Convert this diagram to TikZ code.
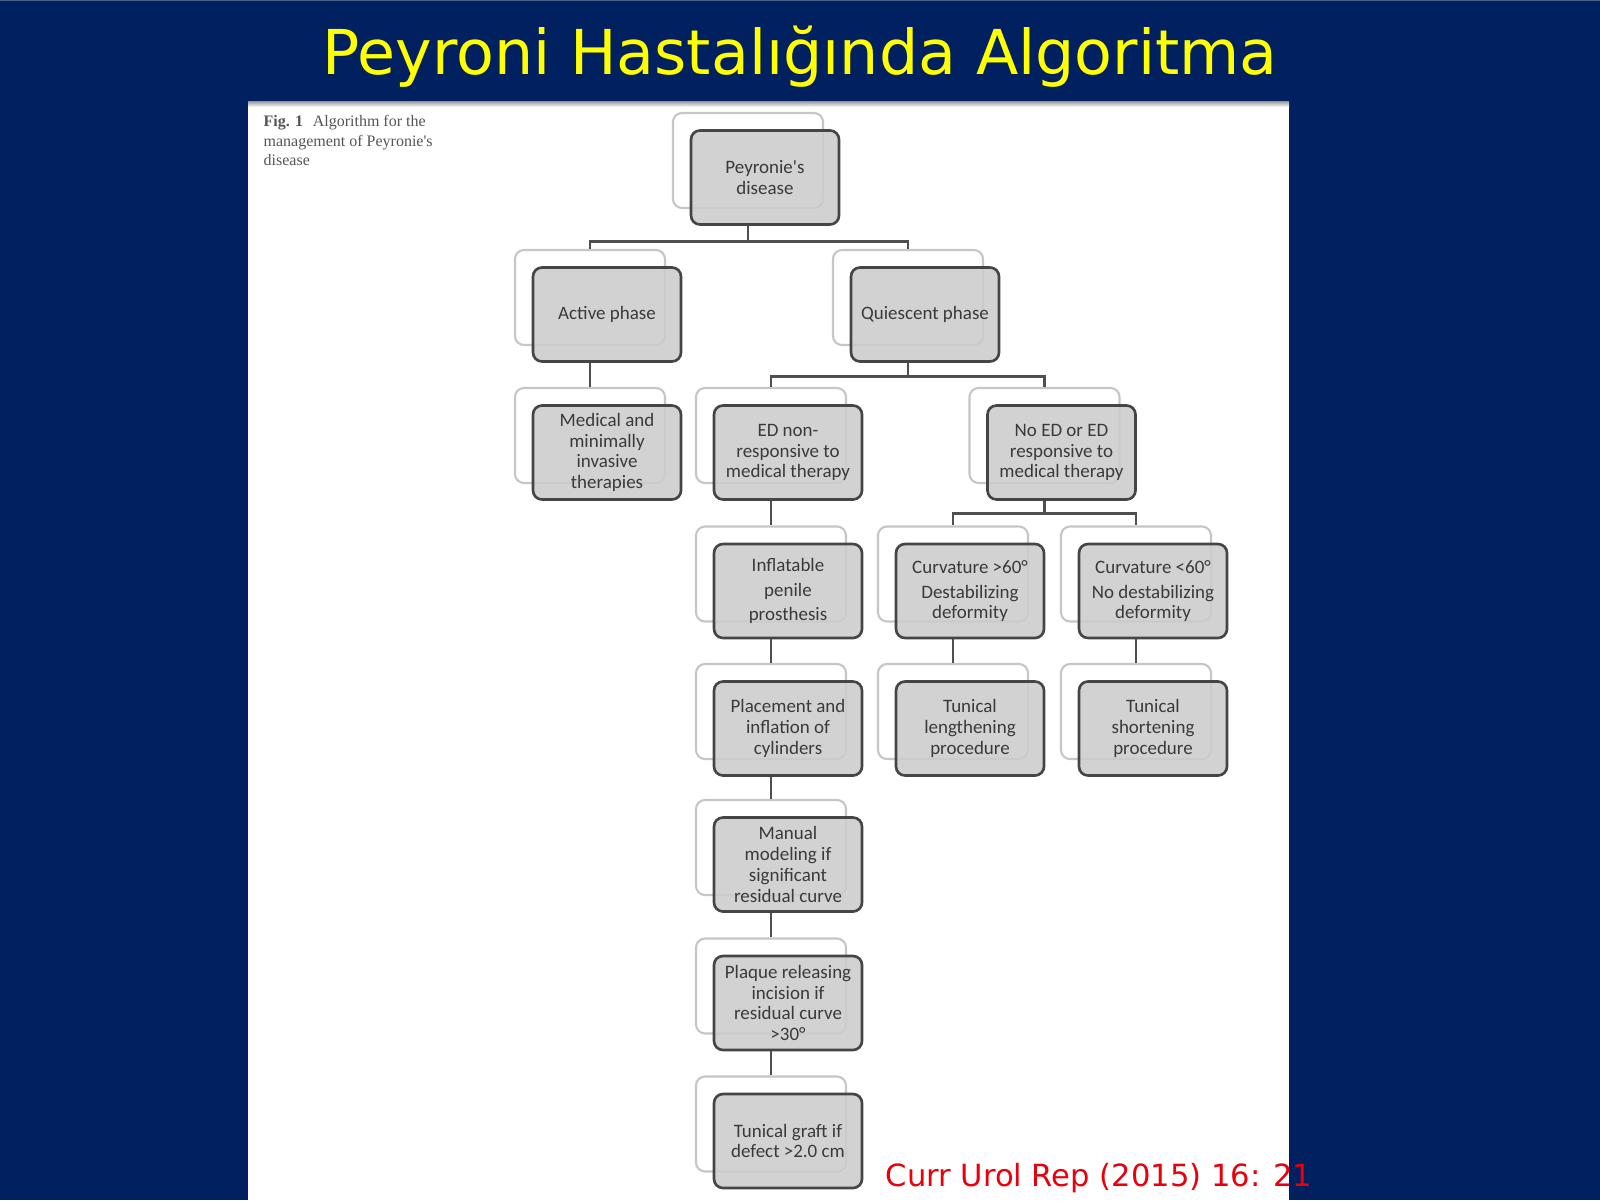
\documentclass[tikz,border=0pt]{standalone}
\usepackage{fontspec}
\setmainfont{DejaVu Sans}
\newfontfamily\boxfont{Carlito}
\newfontfamily\capfont{Liberation Serif}
\usetikzlibrary{positioning}
\definecolor{Navy}{HTML}{00205F}
\definecolor{TitleYellow}{HTML}{FFFF00}
\definecolor{CiteRed}{HTML}{E8000D}
\definecolor{CardFill}{HTML}{CCCCCC}
\definecolor{CardLine}{HTML}{454545}
\definecolor{GhostLine}{HTML}{C6C6C6}
\definecolor{LinkLine}{HTML}{4F4F4F}
\definecolor{CardText}{HTML}{3A3A3A}
\definecolor{CapText}{HTML}{555555}

\tikzset{
  card/.style={draw=CardLine,fill=CardFill,fill opacity=0.88,text opacity=1,
    rounded corners=0.09cm,line width=0.75pt,minimum width=1.48cm,minimum height=0.94cm,
    inner sep=0pt,align=center,text=CardText,font=\boxfont\fontsize{5.4}{5.9}\selectfont},
  ghost/.style={draw=GhostLine,fill=white,rounded corners=0.09cm,line width=0.6pt,
    minimum width=1.5cm,minimum height=0.95cm,inner sep=0pt},
  link/.style={draw=LinkLine,line width=0.8pt},
}

\begin{document}
\begin{tikzpicture}[x=1cm,y=1cm]
\useasboundingbox (0,0) rectangle (16,12);
\fill[Navy] (0,0) rectangle (16,12);
\fill[Navy!70!white] (0,11.985) rectangle (16,12);
\fill[white] (2.48,0) rectangle (12.89,10.98);
\shade[top color=black!35,bottom color=white] (2.48,10.93) rectangle (12.89,10.98);

% title, caption, source
\node[anchor=base,text=TitleYellow,inner sep=0pt,font=\fontsize{17.6}{20}\selectfont] (title) at (8.00,11.25) {Peyroni Hastalığında Algoritma};
\node[anchor=north west,align=left,inner sep=0pt,text=CapText,font=\capfont\fontsize{4.55}{5.55}\selectfont] (caption) at (2.63,10.85) {\textbf{Fig. 1}\hspace{0.6em}Algorithm for the\\management of Peyronie's\\disease};
\node[anchor=base west,text=CiteRed,inner sep=0pt,font=\fontsize{8.7}{10}\selectfont] (source) at (8.85,0.14) {Curr Urol Rep (2015) 16: 21};

% outline boxes behind
\node[ghost] (rootg) at (7.48,10.395) {};
\node[ghost] (activeg) at (5.90,9.025) {};
\node[ghost] (quiescg) at (9.08,9.025) {};
\node[ghost] (medicalg) at (5.90,7.645) {};
\node[ghost] (ednrg) at (7.71,7.645) {};
\node[ghost] (noedg) at (10.445,7.645) {};
\node[ghost] (ippg) at (7.71,6.26) {};
\node[ghost] (curvhig) at (9.53,6.26) {};
\node[ghost] (curvlog) at (11.36,6.26) {};
\node[ghost] (placeg) at (7.71,4.885) {};
\node[ghost] (lengthg) at (9.53,4.885) {};
\node[ghost] (shortg) at (11.36,4.885) {};
\node[ghost] (manualg) at (7.71,3.525) {};
\node[ghost] (plaqueg) at (7.71,2.14) {};
\node[ghost] (graftg) at (7.71,0.76) {};

% boxes
\node[card] (root) at (7.65,10.225) {Peyronie's\\disease};
\node[card] (active) at (6.07,8.855) {Active phase};
\node[card] (quiesc) at (9.25,8.855) {Quiescent phase};
\node[card] (medical) at (6.07,7.475) {Medical and\\minimally\\invasive\\therapies};
\node[card] (ednr) at (7.88,7.475) {ED non-\\responsive to\\medical therapy};
\node[card] (noed) at (10.615,7.475) {No ED or ED\\responsive to\\medical therapy};
\node[card] (ipp) at (7.88,6.09) {Inflatable\\[1pt]penile\\[1pt]prosthesis};
\node[card] (curvhi) at (9.70,6.09) {Curvature >60°\\[1.2pt]Destabilizing\\deformity};
\node[card] (curvlo) at (11.53,6.09) {Curvature <60°\\[1.2pt]No destabilizing\\deformity};
\node[card] (place) at (7.88,4.715) {Placement and\\inflation of\\cylinders};
\node[card] (length) at (9.70,4.715) {Tunical\\lengthening\\procedure};
\node[card] (short) at (11.53,4.715) {Tunical\\shortening\\procedure};
\node[card] (manual) at (7.88,3.355) {Manual\\modeling if\\significant\\residual curve};
\node[card] (plaque) at (7.88,1.97) {Plaque releasing\\incision if\\residual curve\\>30°};
\node[card] (graft) at (7.88,0.59) {Tunical graft if\\defect >2.0 cm};

% connectors
\draw[link] (rootg.south |- root.south) -- ++(0,-0.16) -| (activeg.north);
\draw[link] (rootg.south |- root.south) -- ++(0,-0.16) -| (quiescg.north);
\draw[link] (activeg.south |- active.south) -- (medicalg.north);
\draw[link] (quiescg.south |- quiesc.south) -- ++(0,-0.14) -| (ednrg.north);
\draw[link] (quiescg.south |- quiesc.south) -- ++(0,-0.14) -| (noedg.north);
\draw[link] (ednrg.south |- ednr.south) -- (ippg.north);
\draw[link] (noedg.south |- noed.south) -- ++(0,-0.13) -| (curvhig.north);
\draw[link] (noedg.south |- noed.south) -- ++(0,-0.13) -| (curvlog.north);
\draw[link] (ippg.south |- ipp.south) -- (placeg.north);
\draw[link] (curvhig.south |- curvhi.south) -- (lengthg.north);
\draw[link] (curvlog.south |- curvlo.south) -- (shortg.north);
\draw[link] (placeg.south |- place.south) -- (manualg.north);
\draw[link] (manualg.south |- manual.south) -- (plaqueg.north);
\draw[link] (plaqueg.south |- plaque.south) -- (graftg.north);
\end{tikzpicture}
\end{document}
